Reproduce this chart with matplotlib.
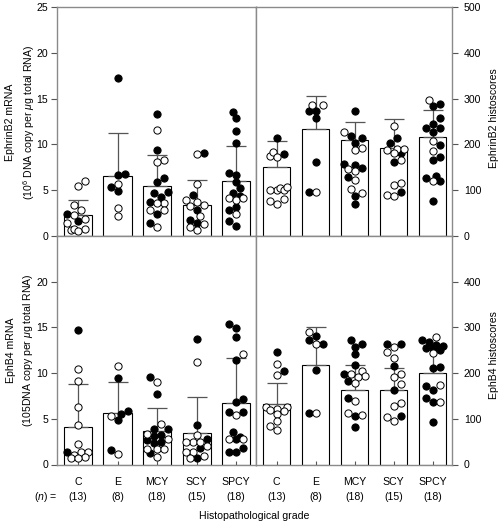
import numpy as np
import matplotlib.pyplot as plt

plt.rcParams['font.family'] = ['Liberation Sans', 'DejaVu Sans']
plt.rcParams['mathtext.fontset'] = 'custom'
plt.rcParams['mathtext.rm'] = 'Liberation Sans'
plt.rcParams['mathtext.it'] = 'Liberation Sans:italic'

# ======================================
# Data
# ======================================

groups = ["C", "E", "MCY", "SCY", "SPCY"]
group_n = [13, 8, 18, 15, 18]

# EphrinB2 mRNA (10^6 copies per ug RNA)
b2_mrna_mean = [2.26, 6.56, 5.50, 3.35, 6.05]
b2_mrna_sd = [1.71, 4.73, 3.39, 2.73, 3.75]
b2_mrna_filled = [
    [2.40, 1.64],
    [17.27, 6.81, 6.70, 5.32, 4.95],
    [13.33, 9.40, 6.38, 5.87, 4.81, 4.74, 4.23, 3.75, 2.44, 1.38],
    [9.07, 4.44, 2.84, 1.75, 1.42],
    [13.59, 12.90, 11.48, 10.16, 6.89, 6.67, 5.90, 5.21, 4.70, 4.37, 3.17, 2.81, 1.68, 1.06],
]
b2_mrna_open = [
    [5.97, 5.50, 3.39, 2.81, 2.33, 1.89, 1.42, 0.69, 0.80, 0.77, 0.51],
    [5.72, 3.10, 2.15],
    [11.55, 8.31, 8.05, 3.64, 3.61, 2.81, 2.81, 0.95],
    [8.96, 5.65, 3.97, 3.75, 3.39, 3.28, 2.15, 1.28, 0.98, 0.62],
    [4.12, 3.97, 4.12, 2.40],
]

# EphrinB2 histoscores
b2_hs_mean = [151, 233, 210, 193, 216]
b2_hs_sd = [56, 72, 38, 62, 60]
b2_hs_filled = [
    [214, 179],
    [273, 273, 257, 162, 95],
    [274, 215, 218, 204, 158, 154, 149, 128, 88, 69],
    [215, 204, 182, 162, 96],
    [283, 289, 245, 258, 228, 236, 235, 198, 173, 167, 121, 130, 127, 77],
]
b2_hs_open = [
    [175, 184, 173, 100, 104, 101, 100, 108, 76, 69, 80],
    [285, 285, 95],
    [228, 193, 188, 146, 142, 123, 102, 93],
    [240, 191, 191, 187, 181, 166, 111, 116, 89, 88],
    [298, 207, 186, 119],
]

# EphB4 mRNA
b4_mrna_mean = [4.12, 5.65, 3.68, 3.50, 6.70]
b4_mrna_sd = [4.66, 3.38, 2.55, 3.90, 4.99]
b4_mrna_filled = [
    [14.75, 1.38],
    [9.44, 5.54, 5.87, 4.85, 1.57],
    [9.54, 7.76, 3.90, 3.83, 3.24, 3.13, 2.73, 2.51, 2.40, 1.31],
    [13.77, 4.30, 2.77, 1.79, 0.73],
    [15.41, 14.94, 13.92, 11.40, 7.14, 6.89, 5.72, 5.72, 3.61, 3.06, 2.77, 1.35, 1.79, 1.35],
]
b4_mrna_open = [
    [10.42, 9.14, 6.27, 4.30, 2.19, 1.38, 1.02, 1.38, 0.73, 0.84, 0.73],
    [10.78, 5.32, 1.13],
    [9.03, 4.48, 3.35, 2.84, 1.75, 1.75, 1.75, 0.87],
    [11.26, 3.24, 2.44, 2.00, 2.44, 2.44, 1.38, 1.38, 0.73, 0.98],
    [12.06, 5.39, 2.77, 2.84],
]

# EphB4 histoscores
b4_hs_mean = [132, 218, 162, 164, 201]
b4_hs_sd = [46, 83, 56, 48, 60]
b4_hs_filled = [
    [247, 204],
    [282, 272, 264, 207, 113],
    [273, 263, 258, 241, 218, 199, 183, 146, 107, 82],
    [263, 264, 215, 164, 107],
    [273, 250, 267, 259, 254, 254, 213, 212, 172, 164, 136, 145, 92, 261],
]
b4_hs_open = [
    [221, 195, 125, 121, 111, 116, 125, 95, 85, 76, 120],
    [289, 263, 113],
    [205, 197, 194, 192, 178, 139, 113, 109],
    [258, 247, 234, 199, 192, 177, 134, 128, 104, 96],
    [278, 244, 174, 136],
]

# ======================================
# Helpers
# ======================================

GRAY = "#8a8a8a"
FS = 7.6


def swarm_x(ax, xc, vals, diam=7.0, maxoff=11.5):
    # simple beeswarm in pixel space so circles sit side by side
    pts = ax.transData.transform(np.column_stack([np.full(len(vals), xc), vals]))
    ppu = ax.transData.transform([[1, 0]])[0, 0] - ax.transData.transform([[0, 0]])[0, 0]
    order = np.argsort(pts[:, 1])
    cand = [0.0]
    for k in range(1, 8):
        cand += [k * diam / 2, -k * diam / 2]
    placed = []
    offs = np.zeros(len(vals))
    for j, i in enumerate(order):
        y = pts[i, 1]
        sign = 1 if j % 2 == 0 else -1
        best, best_d = 0.0, -1.0
        for c in cand:
            c = c * sign
            if abs(c) > maxoff:
                continue
            dmin = min([np.hypot(c - px, y - py) for px, py in placed] + [99.0])
            if dmin >= diam:
                best = c
                break
            if dmin > best_d:
                best, best_d = c, dmin
        placed.append((best, y))
        offs[i] = best
    return xc + offs / ppu


def draw_panel(ax, means, sds, filled, opened, ymax):
    x = np.arange(len(groups))
    ax.set_xlim(-0.53, 4.5)
    ax.set_ylim(0, ymax)
    ax.bar(x, means, width=0.71, color="white", edgecolor="black", linewidth=0.8, zorder=1)
    ax.errorbar(x, means, yerr=[np.zeros(len(x)), sds], fmt="none", ecolor="#555555",
                elinewidth=0.9, capsize=7, capthick=0.9, zorder=2)
    for i in range(len(groups)):
        vals = list(filled[i]) + list(opened[i])
        kinds = [1] * len(filled[i]) + [0] * len(opened[i])
        xs = swarm_x(ax, i, vals)
        for xx, yy, k in zip(xs, vals, kinds):
            ax.scatter(xx, yy, s=27, marker="o", facecolor="black" if k else "white",
                       edgecolor="black", linewidth=0.7, zorder=3, clip_on=False)
    for sp in ax.spines.values():
        sp.set_color(GRAY)
        sp.set_linewidth(1.0)
    ax.tick_params(axis="y", direction="out", length=4.5, width=0.8, color="#555555",
                   labelsize=FS, pad=2)


# ======================================
# Figure layout (pixel based)
# ======================================

W, H = 501, 522
fig = plt.figure(figsize=(W / 100, H / 100), dpi=100)


def rect(x0, x1, ytop, ybot):
    return [x0 / W, 1 - ybot / H, (x1 - x0) / W, (ybot - ytop) / H]


ax_tl = fig.add_axes(rect(57, 256, 7, 236))
ax_tr = fig.add_axes(rect(256, 452, 7, 236))
ax_bl = fig.add_axes(rect(57, 256, 236, 464.5))
ax_br = fig.add_axes(rect(256, 452, 236, 464.5))

draw_panel(ax_tl, b2_mrna_mean, b2_mrna_sd, b2_mrna_filled, b2_mrna_open, 25)
draw_panel(ax_tr, b2_hs_mean, b2_hs_sd, b2_hs_filled, b2_hs_open, 500)
draw_panel(ax_bl, b4_mrna_mean, b4_mrna_sd, b4_mrna_filled, b4_mrna_open, 25)
draw_panel(ax_br, b4_hs_mean, b4_hs_sd, b4_hs_filled, b4_hs_open, 500)

ax_tl.set_yticks([0, 5, 10, 15, 20, 25])
ax_bl.set_yticks([0, 5, 10, 15, 20])
ax_tr.set_yticks([0, 100, 200, 300, 400, 500])
ax_br.set_yticks([0, 100, 200, 300, 400])

for ax in (ax_tr, ax_br):
    ax.tick_params(axis="y", left=False, labelleft=False, right=True, labelright=True, pad=4)

for ax in (ax_tl, ax_tr):
    ax.set_xticks([])

xlabels = [f"{g}\n({n})" for g, n in zip(groups, group_n)]
for ax in (ax_bl, ax_br):
    ax.set_xticks(range(len(groups)))
    ax.set_xticklabels(xlabels)
    ax.tick_params(axis="x", direction="in", length=3, width=0.8, color="#555555",
                   labelsize=FS, pad=9)
    for lab in ax.get_xticklabels():
        lab.set_linespacing(1.65)

# ======================================
# Labels
# ======================================

fig.text(21 / W, 1 - 122 / H, "EphrinB2 mRNA\n(10$^6$ DNA copy per $\\mu$g total RNA)",
         rotation=90, ha="center", va="center", fontsize=FS, linespacing=1.5, multialignment="center")
fig.text(21 / W, 1 - 350 / H, "EphB4 mRNA\n(105DNA copy per $\\mu$g total RNA)",
         rotation=90, ha="center", va="center", fontsize=FS, linespacing=1.5, multialignment="center")
fig.text(494 / W, 1 - 118 / H, "EphrinB2 histoscores", rotation=90, ha="center", va="center", fontsize=FS)
fig.text(494 / W, 1 - 355 / H, "EphB4 histoscores", rotation=90, ha="center", va="center", fontsize=FS)
fig.text(46 / W, 1 - 497 / H, "($\\it{n}$) =", ha="center", va="center", fontsize=FS)
fig.text(254 / W, 1 - 516 / H, "Histopathological grade", ha="center", va="center", fontsize=FS)

fig.savefig("out.png", dpi=100)
